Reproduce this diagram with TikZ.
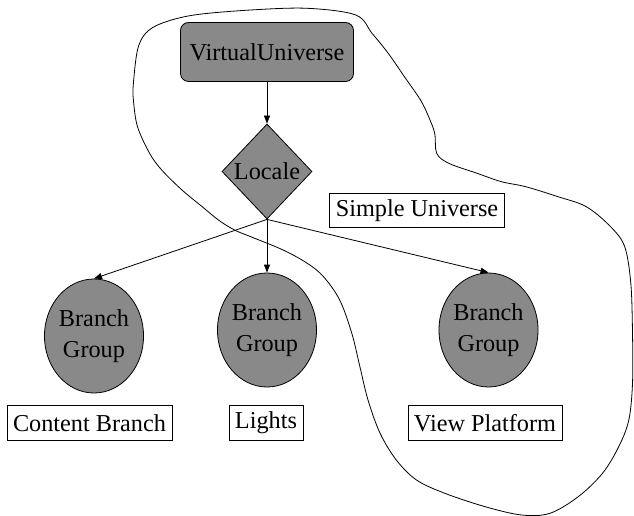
\documentclass[tikz,border=0pt]{standalone}
\usepackage{fontspec}
\setmainfont{Liberation Serif}
\usepackage{xcolor}
\usepackage{tikz}
\usetikzlibrary{positioning,arrows.meta,shapes.geometric,calc}

\definecolor{nodegray}{RGB}{137,137,137}

\begin{document}
\begin{tikzpicture}[
  x=0.75pt, y=-0.75pt,
  font=\fontsize{18.2}{23.5}\selectfont, >={Triangle[length=6pt,width=4.5pt]},
  root/.style={draw, rounded corners=6pt, fill=nodegray, align=center,
               minimum width=129.75pt, minimum height=44.25pt, line width=0.6pt},
  hub/.style={draw, diamond, fill=nodegray, inner sep=0pt,
              minimum width=67.5pt, minimum height=71.25pt, line width=0.6pt},
  grp/.style={draw, ellipse, fill=nodegray, align=center, inner sep=0pt,
              minimum width=67.5pt, minimum height=85.5pt, line width=0.6pt},
  tag/.style={draw, fill=white, inner xsep=4.5pt, minimum height=26pt, line width=0.6pt},
  arr/.style={->, line width=0.6pt},
]
\useasboundingbox (0,0) rectangle (634,516);

% loop round the simple universe
\draw[line width=0.6pt] plot[smooth cycle, tension=0.55] coordinates {
  (355.8,15) (307.3,8.3) (250.7,10) (194.1,15) (161.7,23.3) (145.6,33.3)
  (137.5,50) (133.4,83.3) (133.4,100) (137.5,126.7) (149.6,153.3) (161.7,170)
  (182,190) (202.2,206.7) (218.4,220) (234.5,230) (250.7,236.7) (283.1,250)
  (307.3,263.3) (323.5,276.7) (339.7,300) (351.8,333.3) (359.9,366.7) (368,400)
  (380.1,433.3) (396.3,460) (416.5,480) (444.8,493.3) (485.2,506.7) (521.6,515)
  (549.9,513.3) (578.2,496.7) (602.5,473.3) (618.7,446.7) (628.8,420) (632.5,383.3)
  (632.5,333.3) (630.8,283.3) (624.7,246.7) (610.6,226.7) (586.3,206.7) (558,196.7)
  (525.7,186.7) (501.4,181.7) (477.1,173.3) (448.8,163.3) (436.7,153.3) (434.7,133.3)
  (428.6,116.7) (420.5,100) (404.4,76.7) (388.2,53.3) (372,33.3)};

\node[root] (vu)  at (267,52)    {VirtualUniverse};
\node[hub]  (loc) at (267,171.5) {Locale};
\node[grp]  (bg1) at (94,336)    {Branch\\Group};
\node[grp]  (bg2) at (267,330)   {Branch\\Group};
\node[grp]  (bg3) at (488.5,330) {Branch\\Group};

\node[tag] (t0) at (417,210.5) {Simple Universe};
\node[tag] (t1) at (89.5,423)  {Content Branch};
\node[tag] (t2) at (266,423)   {Lights};
\node[tag] (t3) at (485,423)   {View Platform};

\draw[arr] (vu) -- (loc);
\draw[arr] (loc.south) -- (bg1.north);
\draw[arr] (loc.south) -- (bg2.north);
\draw[arr] (loc.south) -- (bg3.north);
\end{tikzpicture}
\end{document}
